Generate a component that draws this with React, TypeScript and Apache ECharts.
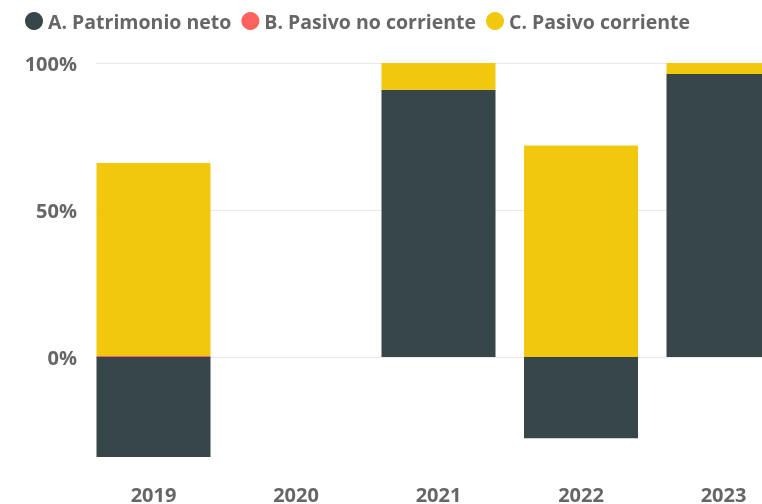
import React, { useEffect, useRef } from "react";
import * as echarts from "echarts";

const years = ["2019", "2020", "2021", "2022", "2023"];
const patrimonioNeto = [-34.0, null, 90.9, -27.6, 96.3];
const pasivoNoCorriente = [0.3, null, 0, 0, 0];
const pasivoCorriente = [65.7, null, 9.1, 71.9, 3.7];
const seriesNames = ["A. Patrimonio neto", "B. Pasivo no corriente", "C. Pasivo corriente"];
const colors = ["#374649", "#FD625E", "#F2C80F"];

const FONT = "'Open Sans', 'Noto Sans', sans-serif";
const TEXT = "#666666";

export default function App() {
  const ref = useRef<HTMLDivElement>(null);
  useEffect(() => {
    if (!ref.current) return;
    const chart = echarts.init(ref.current, null, { renderer: "svg" });
    const values = [patrimonioNeto, pasivoNoCorriente, pasivoCorriente];
    chart.setOption({
      animation: false,
      color: colors,
      legend: {
        left: 25,
        top: 11,
        padding: 0,
        itemGap: 10,
        itemWidth: 18,
        itemHeight: 18,
        icon: "circle",
        data: seriesNames,
        textStyle: { fontFamily: FONT, fontWeight: "bold", fontSize: 19.5, color: TEXT },
      },
      grid: [
        { left: 82.25, width: 712.5, top: 63, bottom: 0, containLabel: false },
        { left: 96, right: 0, top: 63, bottom: 0, containLabel: false },
      ],
      xAxis: [
        {
          type: "category",
          gridIndex: 0,
          data: years,
          axisLine: { show: false },
          axisTick: { show: false },
          axisLabel: {
            margin: -18,
            lineHeight: 16,
            fontFamily: FONT,
            fontWeight: "bold",
            fontSize: 20,
            color: TEXT,
          },
        },
        { type: "value", gridIndex: 1, min: 0, max: 1, show: false },
      ],
      yAxis: [
        {
          type: "value",
          gridIndex: 0,
          min: -50,
          max: 100,
          interval: 50,
          axisLabel: { show: false },
          splitLine: { show: false },
          axisLine: { show: false },
          axisTick: { show: false },
        },
        {
          type: "value",
          gridIndex: 1,
          min: -50,
          max: 100,
          interval: 50,
          axisLine: { show: false },
          axisTick: { show: false },
          axisLabel: {
            showMinLabel: false,
            margin: 19,
            formatter: (v: number) => `${v}%`,
            fontFamily: FONT,
            fontWeight: "bold",
            fontSize: 20,
            color: TEXT,
          },
          splitLine: {
            show: true,
            lineStyle: { color: ["transparent", "#E8E8E8", "#E8E8E8", "#E8E8E8"], width: 1 },
          },
        },
      ],
      series: seriesNames.map((name, i) => ({
        name,
        type: "bar",
        stack: "total",
        xAxisIndex: 0,
        yAxisIndex: 0,
        barWidth: 114,
        data: values[i],
        itemStyle: { color: colors[i] },
      })),
    });
    return () => chart.dispose();
  }, []);
  return (
    <div
      style={{
        position: "fixed",
        left: 0,
        top: 0,
        width: 762,
        height: 504,
        overflow: "hidden",
      }}
    >
      <div ref={ref} style={{ width: 800, height: 504 }} />
    </div>
  );
}
